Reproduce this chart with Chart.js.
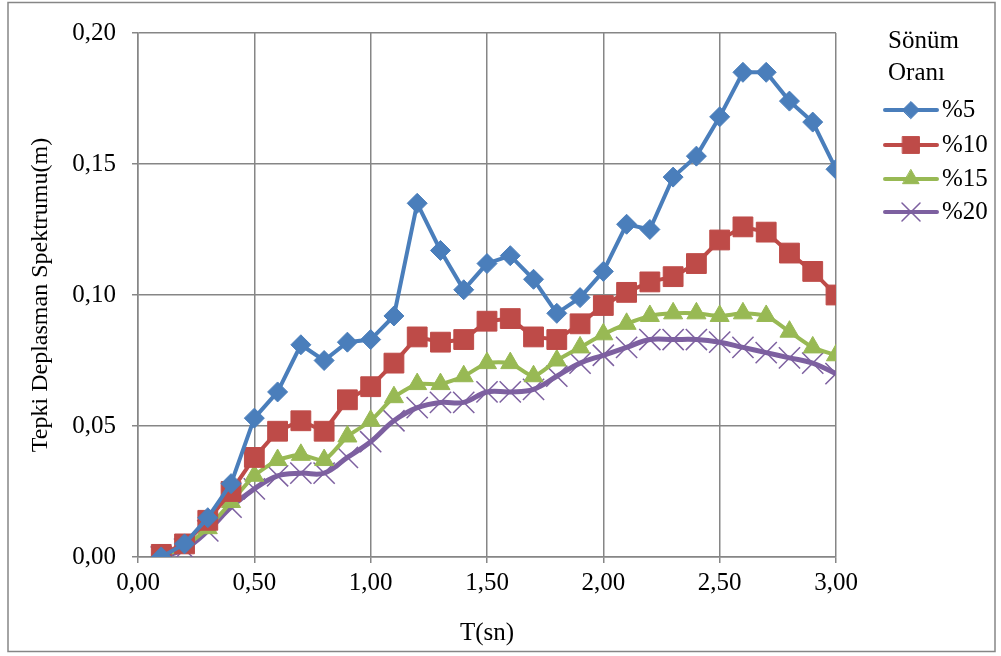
<!DOCTYPE html>
<html>
<head>
<meta charset="utf-8">
<script src="https://cdn.jsdelivr.net/npm/chart.js@4.4.1/dist/chart.umd.min.js"></script>
<style>
  html, body { margin: 0; padding: 0; background: #fff; }
  #wrap { width: 1001px; height: 656px; }
</style>
</head>
<body>
<div id="wrap"><canvas id="spektrum"></canvas></div>
<script>
// periyot (sn)
const periods = [0.1, 0.2, 0.3, 0.4, 0.5, 0.6, 0.7, 0.8, 0.9, 1.0,
	1.1, 1.2, 1.3, 1.4, 1.5, 1.6, 1.7, 1.8, 1.9, 2.0,
	2.1, 2.2, 2.3, 2.4, 2.5, 2.6, 2.7, 2.8, 2.9, 3.0];

const damp5 = [0.000, 0.005, 0.015, 0.028, 0.053, 0.063, 0.081, 0.075, 0.082, 0.083,
	0.092, 0.135, 0.117, 0.102, 0.112, 0.115, 0.106, 0.093, 0.099, 0.109,
	0.127, 0.125, 0.145, 0.153, 0.168, 0.185, 0.185, 0.174, 0.166, 0.148];
const damp10 = [0.001, 0.005, 0.014, 0.025, 0.038, 0.048, 0.052, 0.048, 0.060, 0.065,
	0.074, 0.084, 0.082, 0.083, 0.090, 0.091, 0.084, 0.083, 0.089, 0.096,
	0.101, 0.105, 0.107, 0.112, 0.121, 0.126, 0.124, 0.116, 0.109, 0.100];
const damp15 = [0.000, 0.004, 0.011, 0.021, 0.031, 0.037, 0.039, 0.037, 0.046, 0.052,
	0.061, 0.066, 0.066, 0.069, 0.074, 0.074, 0.069, 0.075, 0.080, 0.085,
	0.089, 0.092, 0.093, 0.093, 0.092, 0.093, 0.092, 0.086, 0.080, 0.077];
const damp20 = [0.000, 0.003, 0.010, 0.019, 0.026, 0.031, 0.032, 0.032, 0.038, 0.044,
	0.052, 0.057, 0.059, 0.059, 0.063, 0.063, 0.064, 0.069, 0.074, 0.077,
	0.080, 0.083, 0.083, 0.083, 0.082, 0.080, 0.078, 0.076, 0.074, 0.070];

const seriesLabels = ["%5", "%10", "%15", "%20"];
const legendTitle = ["Sönüm", "Oranı"];
const xTitle = "T(sn)";
const yTitle = "Tepki Deplasman Spektrumu(m)";

const FONT = "'Liberation Serif', 'Times New Roman', serif";
const GRID = "#868686";

const toPoints = (ys) => ys.map((y, i) => ({ x: periods[i], y: y }));
const comma = (v) => v.toFixed(2).replace(".", ",");

const makeSet = (label, data, color, style, radius, lineWidth, tension) => ({
	label: label,
	data: toPoints(data),
	borderColor: color,
	backgroundColor: color,
	pointBackgroundColor: color,
	pointBorderColor: color,
	pointStyle: style,
	pointRadius: radius,
	pointHoverRadius: radius,
	pointBorderWidth: style === "crossRot" ? 1.5 : 1,
	borderWidth: lineWidth,
	tension: tension,
});

const datasets = [
	makeSet(seriesLabels[0], damp5, "#4A7EBB", "rectRot", 10, 4, 0),
	makeSet(seriesLabels[1], damp10, "#BE4B48", "rect", 14, 4, 0),
	makeSet(seriesLabels[2], damp15, "#98B954", "triangle", 11, 4, 0.2),
	makeSet(seriesLabels[3], damp20, "#7D60A0", "crossRot", 15, 5, 0.4),
];

// cerceve ve sag taraftaki aciklama
const framePlugin = {
	id: "frame",
	beforeDraw(chart) {
		const ctx = chart.ctx;
		ctx.save();
		ctx.strokeStyle = GRID;
		ctx.lineWidth = 1.5;
		ctx.strokeRect(8, 2.5, 987, 649);
		ctx.restore();
	},
	afterDraw(chart) {
		const ctx = chart.ctx;
		ctx.save();
		ctx.fillStyle = "#000";
		ctx.font = "25px " + FONT;
		ctx.textBaseline = "middle";
		ctx.textAlign = "left";
		ctx.fillText(legendTitle[0], 888, 41);
		ctx.fillText(legendTitle[1], 888, 73);
		const rows = [110, 145, 179, 212];
		chart.data.datasets.forEach((ds, i) => {
			const y = rows[i];
			ctx.strokeStyle = ds.borderColor;
			ctx.lineWidth = 4;
			ctx.lineCap = "round";
			ctx.beginPath();
			ctx.moveTo(885, y);
			ctx.lineTo(937, y);
			ctx.stroke();
			ctx.fillStyle = ds.borderColor;
			ctx.lineWidth = ds.pointBorderWidth;
			Chart.helpers.drawPoint(ctx, {
				pointStyle: ds.pointStyle,
				radius: ds.pointRadius * 0.85,
				borderWidth: ds.pointBorderWidth,
				rotation: 0,
			}, 911, y);
			ctx.fillStyle = "#000";
			ctx.fillText(ds.label, 942, y);
		});
		ctx.restore();
	},
};

new Chart(document.getElementById("spektrum"), {
	type: "line",
	data: { datasets: datasets },
	options: {
		responsive: true,
		maintainAspectRatio: false,
		animation: false,
		layout: { padding: { left: 0, top: 33, right: 165, bottom: 0 } },
		plugins: {
			legend: { display: false },
			tooltip: { enabled: false },
		},
		scales: {
			x: {
				type: "linear",
				min: 0,
				max: 3,
				afterFit: (scale) => { scale.height = 99; },
				ticks: {
					stepSize: 0.5,
					color: "#000",
					font: { family: FONT, size: 25 },
					padding: 5,
					maxRotation: 0,
					callback: (v) => comma(v),
				},
				grid: { color: GRID, lineWidth: 1.5, tickLength: 6 },
				border: { color: GRID, width: 1.5 },
				title: {
					display: true,
					text: xTitle,
					color: "#000",
					font: { family: FONT, size: 25 },
					padding: { top: 0, bottom: 8 },
				},
			},
			y: {
				min: 0,
				max: 0.2,
				afterFit: (scale) => { scale.width = 138; },
				ticks: {
					stepSize: 0.05,
					color: "#000",
					font: { family: FONT, size: 25 },
					padding: 16,
					callback: (v) => comma(v),
				},
				grid: { color: GRID, lineWidth: 1.5, tickLength: 6 },
				border: { color: GRID, width: 1.5 },
				title: {
					display: true,
					text: yTitle,
					color: "#000",
					font: { family: FONT, size: 24 },
					padding: { top: 26, bottom: 0 },
				},
			},
		},
	},
	plugins: [framePlugin],
});
</script>
</body>
</html>
